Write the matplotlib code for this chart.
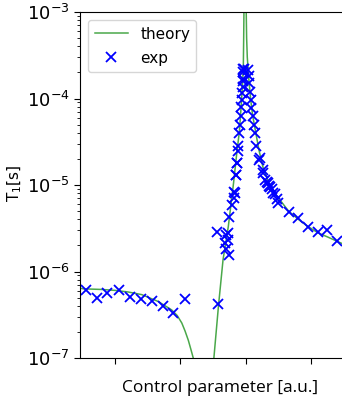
import matplotlib
matplotlib.use("Agg")
import matplotlib.pyplot as plt
import numpy as np

# theory curve (two branches around the divergence)
theory_left_x = [-0.53, -0.48, -0.2, 0.0, 0.2, 0.41, 0.66, 0.865, 0.95, 1.02, 1.07,
                 1.12, 1.16, 1.195, 1.22, 1.25]
theory_left_y = [6.4e-7, 6.3e-7, 6.2e-7, 6.05e-7, 5.8e-7, 5.4e-7, 4.5e-7, 3.6e-7,
                 3.1e-7, 2.54e-7, 2.05e-7, 1.6e-7, 1.25e-7, 1.0e-7, 7e-8, 3e-8]
theory_right_x = [1.48, 1.51, 1.58, 1.65, 1.73, 1.81, 1.86, 1.90, 1.93, 1.95, 1.96,
                  1.965, 1.97, 1.972,
                  1.998, 2.0, 2.01, 2.02, 2.04, 2.07, 2.10, 2.15, 2.20, 2.26, 2.34,
                  2.42, 2.50, 2.65, 2.80, 2.95, 3.10, 3.25, 3.47, 3.7]
theory_right_y = [3e-8, 1e-7, 4e-7, 1.37e-6, 3.3e-6, 1.05e-5, 2.35e-5, 4.2e-5, 9e-5,
                  1.6e-4, 2.5e-4, 5e-4, 1.2e-3, 3e-3,
                  3e-3, 1.5e-3, 5e-4, 3e-4, 1.8e-4, 1e-4, 6.5e-5, 4e-5, 2.5e-5,
                  1.6e-5, 1.1e-5, 8.5e-6, 7e-6, 5e-6, 4e-6, 3.3e-6, 2.8e-6, 2.5e-6,
                  2.1e-6, 1.85e-6]

# experimental points
exp_x = [-0.44, -0.28, -0.12, 0.06, 0.23, 0.40, 0.57, 0.73, 0.89, 1.07,
         1.58, 1.55, 1.73, 1.70, 1.68, 1.73, 1.70, 1.745, 1.745, 1.78, 1.81,
         1.82, 1.85, 1.87, 1.885,
         1.83, 1.85, 1.87, 1.88, 1.90, 1.91, 1.92, 1.93, 1.935, 1.94, 1.95,
         1.955, 1.96, 1.965, 1.95, 1.96,
         2.035, 2.04, 2.05, 2.06, 2.07, 2.08, 2.10, 2.12, 2.14, 2.16, 2.20,
         2.21, 2.26, 2.26, 2.29, 2.32, 2.34, 2.35, 2.37, 2.40, 2.42, 2.44,
         2.47, 2.49, 2.65, 2.80, 2.95, 3.10, 3.24, 3.39]
exp_y = [6.05e-7, 4.94e-7, 5.65e-7, 6.17e-7, 5.1e-7, 4.8e-7, 4.6e-7, 4.0e-7,
         3.3e-7, 4.8e-7,
         4.2e-7, 2.9e-6, 2.8e-6, 2.66e-6, 2.14e-6, 2.33e-6, 1.82e-6, 1.56e-6,
         4.3e-6, 5.9e-6, 7.1e-6, 8.2e-6, 1.32e-5, 1.79e-5, 2.48e-5,
         8.1e-6, 1.29e-5, 1.79e-5, 2.8e-5, 4.0e-5, 5.0e-5, 6.2e-5, 8.0e-5,
         9.6e-5, 1.15e-4, 1.37e-4, 1.7e-4, 2.04e-4, 2.2e-4, 2.2e-4, 1.6e-4,
         2.14e-4, 1.8e-4, 1.5e-4, 1.2e-4, 9.6e-5, 7.8e-5, 6.2e-5, 5.0e-5,
         4.0e-5, 2.8e-5, 1.95e-5,
         2.04e-5, 1.5e-5, 1.38e-5, 1.15e-5, 1.08e-5, 1.05e-5, 9.8e-6, 9.6e-6,
         9.0e-6, 8.1e-6, 7.8e-6, 6.8e-6, 6.2e-6, 4.9e-6, 4.1e-6, 3.3e-6,
         2.9e-6, 3.0e-6, 2.23e-6]

x_ticks = [0, 1, 2, 3]

fig = plt.figure(figsize=(3.42, 3.98), dpi=100)
ax = fig.add_axes([80 / 342, 40 / 398, 280 / 342, 346 / 398])

ax.plot(theory_left_x, theory_left_y, color="#4aa84a", lw=1.1, label="theory")
ax.plot(theory_right_x, theory_right_y, color="#4aa84a", lw=1.1)
ax.plot(exp_x, exp_y, "x", color="blue", ms=7, mew=1.3, label="exp")

ax.set_yscale("log")
ax.set_ylim(1e-7, 1e-3)
ax.set_xlim(-0.534, -0.534 + 280 / 65.5)
ax.set_xticks(x_ticks)
ax.set_xticklabels([])
ax.tick_params(axis="both", which="major", labelsize=13, length=4)
ax.tick_params(axis="y", which="minor", length=2)

ax.set_ylabel(r"T$_1$[s]", fontsize=11, labelpad=3)
ax.yaxis.set_label_coords(-0.2, 0.505)
ax.set_xlabel("Control parameter [a.u.]", fontsize=12.5, family="Open Sans", labelpad=8)

ax.legend(loc="upper left", fontsize=11, handlelength=2.2, labelspacing=0.6,
          borderaxespad=0.55)

fig.savefig("out.png", dpi=100)
